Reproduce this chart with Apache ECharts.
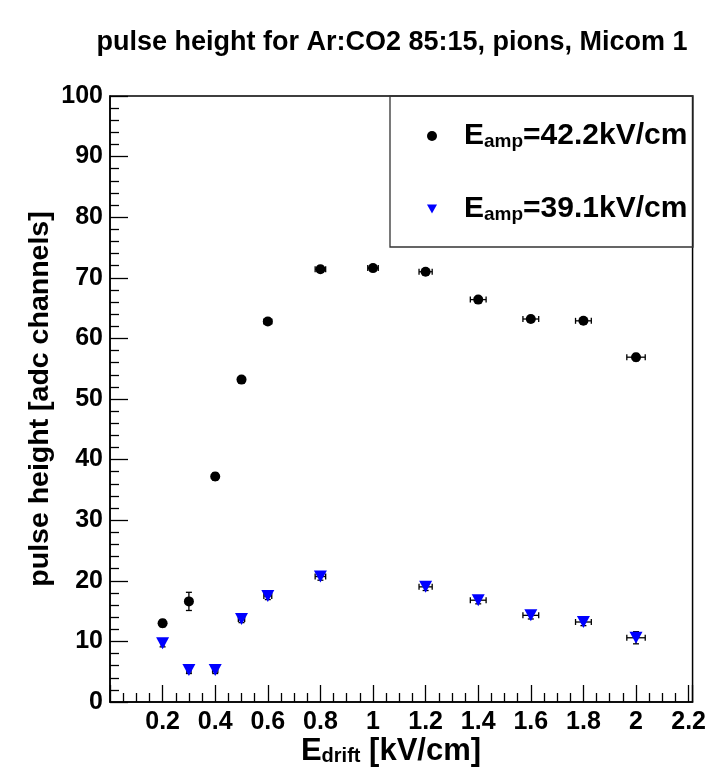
<!DOCTYPE html>
<html>
<head>
<meta charset="utf-8">
<script src="https://cdn.jsdelivr.net/npm/echarts@6/dist/echarts.min.js"></script>
<style>
html,body{margin:0;padding:0;background:#fff;}
#chart{width:709px;height:778px;}
</style>
</head>
<body>
<div id="chart"></div>
<script>
// ---- data ----
var titleText = 'pulse height for Ar:CO2 85:15, pions, Micom 1';
var yTitle = 'pulse height [adc channels]';

var xBlack    = [0.2, 0.3, 0.4, 0.5, 0.6, 0.8, 1.0, 1.2, 1.4, 1.6, 1.8, 2.0];
var yBlack    = [13.0, 16.6, 37.2, 53.2, 62.8, 71.4, 71.6, 71.0, 66.4, 63.2, 62.9, 56.9];
var xErrBlack = [0.005, 0.008, 0.01, 0.012, 0.015, 0.02, 0.02, 0.025, 0.03, 0.03, 0.03, 0.035];
var yErrBlack = [0.6, 1.5, 0.6, 0.5, 0.5, 0.5, 0.5, 0.5, 0.5, 0.5, 0.5, 0.6];

var xBlue    = [0.2, 0.3, 0.4, 0.5, 0.6, 0.8, 1.2, 1.4, 1.6, 1.8, 2.0];
var yBlue    = [9.7, 5.3, 5.3, 13.7, 17.5, 20.7, 19.0, 16.8, 14.3, 13.2, 10.6];
var xErrBlue = [0.005, 0.008, 0.01, 0.012, 0.015, 0.02, 0.025, 0.03, 0.03, 0.03, 0.035];
var yErrBlue = [0.6, 0.6, 0.6, 0.6, 0.6, 0.6, 0.6, 0.6, 0.6, 0.6, 1.0];

var nameBlack = 'E_amp=42.2kV/cm';
var nameBlue  = 'E_amp=39.1kV/cm';
var legendText = {};
legendText[nameBlack] = '{m|E}{s|amp}{m|=42.2kV/cm}';
legendText[nameBlue]  = '{m|E}{s|amp}{m|=39.1kV/cm}';

// ---- build ----
var FONT = '"Liberation Sans", Arial, Helvetica, sans-serif';
function pts(xs, ys){ return xs.map(function(x,i){ return [x, ys[i]]; }); }
function errs(xs, ys, xe, ye){ return xs.map(function(x,i){ return [x, ys[i], xe[i], ye[i]]; }); }

function errRender(params, api){
  var x = api.value(0), y = api.value(1), xe = api.value(2), ye = api.value(3);
  var l = api.coord([x - xe, y]), r = api.coord([x + xe, y]);
  var t = api.coord([x, y + ye]), b = api.coord([x, y - ye]);
  var st = {stroke: '#000', lineWidth: 1.3};
  var cap = 3;
  return {type: 'group', children: [
    {type:'line', shape:{x1:l[0], y1:l[1], x2:r[0], y2:r[1]}, style:st},
    {type:'line', shape:{x1:l[0], y1:l[1]-cap, x2:l[0], y2:l[1]+cap}, style:st},
    {type:'line', shape:{x1:r[0], y1:r[1]-cap, x2:r[0], y2:r[1]+cap}, style:st},
    {type:'line', shape:{x1:t[0], y1:t[1], x2:b[0], y2:b[1]}, style:st},
    {type:'line', shape:{x1:t[0]-cap, y1:t[1], x2:t[0]+cap, y2:t[1]}, style:st},
    {type:'line', shape:{x1:b[0]-cap, y1:b[1], x2:b[0]+cap, y2:b[1]}, style:st}
  ]};
}

var richLegend = {
  m: {fontFamily: FONT, fontWeight: 'bold', fontSize: 30, color: '#000', lineHeight: 30, verticalAlign: 'top'},
  s: {fontFamily: FONT, fontWeight: 'bold', fontSize: 19, color: '#000', lineHeight: 20, padding: [16,0,0,0], verticalAlign: 'bottom'}
};

var chart = echarts.init(document.getElementById('chart'), null, {renderer: 'canvas'});
chart.setOption({
  animation: false,
  backgroundColor: '#fff',
  grid: {left: 110, right: 16, top: 96, bottom: 76, show: true, borderColor: '#000', borderWidth: 1.5, backgroundColor: 'transparent'},
  xAxis: {
    type: 'value', min: 0, max: 2.215, interval: 0.2,
    axisLine: {show: true, onZero: false, lineStyle: {color: '#000', width: 1.5}},
    axisTick: {show: true, inside: true, length: 17, lineStyle: {color: '#000', width: 1.3}},
    minorTick: {show: true, splitNumber: 4, length: 9, lineStyle: {color: '#000', width: 1.3}},
    splitLine: {show: false},
    axisLabel: {
      show: true, margin: 8, showMaxLabel: false, showMinLabel: false,
      fontFamily: FONT, fontWeight: 'bold', fontSize: 25, color: '#000',
      formatter: function(v){ return String(Math.round(v*10)/10); }
    }
  },
  yAxis: {
    type: 'value', min: 0, max: 100, interval: 10,
    axisLine: {show: true, onZero: false, lineStyle: {color: '#000', width: 1.5}},
    axisTick: {show: true, inside: true, length: 18, lineStyle: {color: '#000', width: 1.3}},
    minorTick: {show: true, splitNumber: 5, length: 9, lineStyle: {color: '#000', width: 1.3}},
    splitLine: {show: false},
    axisLabel: {show: true, margin: 7, fontFamily: FONT, fontWeight: 'bold', fontSize: 25, color: '#000'}
  },
  legend: {
    show: true, orient: 'vertical', left: 422, top: 111, itemGap: 38,
    itemWidth: 10, itemHeight: 10,
    data: [
      {name: nameBlack, icon: 'circle', itemStyle: {color: '#000', opacity: 1}},
      {name: nameBlue, icon: 'path://M0,0 L10,0 L5,9 Z', itemStyle: {color: '#0000ff', opacity: 1}}
    ],
    formatter: function(n){ return legendText[n]; },
    textStyle: {padding: [0,0,0,22], rich: richLegend},
    selectedMode: false
  },
  graphic: [
    {type: 'rect', shape: {x: 390, y: 96, width: 303, height: 151}, style: {fill: 'none', stroke: '#333', lineWidth: 1.3}, z: 10},
    {type: 'text', x: 392, y: 43, style: {text: titleText, font: 'bold 27px ' + FONT, fill: '#000', textAlign: 'center', textVerticalAlign: 'middle'}},
    {type: 'text', x: 40, y: 399, rotation: Math.PI/2, style: {text: yTitle, font: 'bold 28.5px ' + FONT, fill: '#000', textAlign: 'center', textVerticalAlign: 'middle'}},
    {type: 'text', x: 391, y: 751, style: {
      text: '{m|E}{s|drift}{m| [kV/cm]}', textAlign: 'center', textVerticalAlign: 'middle',
      rich: {
        m: {fontFamily: FONT, fontWeight: 'bold', fontSize: 31, fill: '#000', lineHeight: 31, verticalAlign: 'top'},
        s: {fontFamily: FONT, fontWeight: 'bold', fontSize: 20, fill: '#000', lineHeight: 20, padding: [16,0,0,0], verticalAlign: 'bottom'}
      }
    }}
  ],
  series: [
    {type: 'custom', name: 'errBlack', renderItem: errRender, data: errs(xBlack, yBlack, xErrBlack, yErrBlack), z: 2, silent: true},
    {type: 'custom', name: 'errBlue', renderItem: errRender, data: errs(xBlue, yBlue, xErrBlue, yErrBlue), z: 2, silent: true},
    {type: 'scatter', name: nameBlack, data: pts(xBlack, yBlack), symbol: 'circle', symbolSize: 10, itemStyle: {color: '#000', opacity: 1}, z: 3},
    {type: 'scatter', name: nameBlue, data: pts(xBlue, yBlue), symbol: 'path://M0,0 L10,0 L5,9 Z', symbolSize: [13, 12], itemStyle: {color: '#0000ff', opacity: 1}, z: 3}
  ]
});
</script>
</body>
</html>
